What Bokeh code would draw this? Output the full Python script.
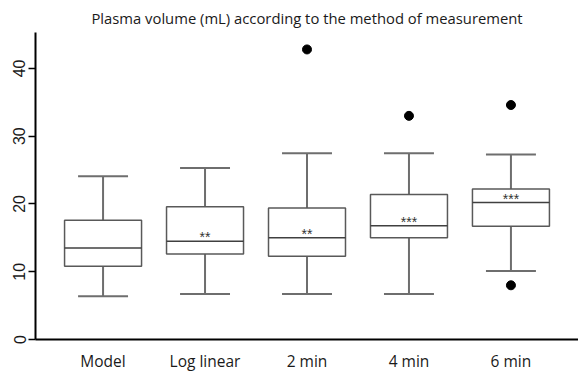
from bokeh.plotting import figure
from bokeh.models import ColumnDataSource, FactorRange, FixedTicker, Range1d
from bokeh.transform import dodge
from bokeh.embed import file_html
from bokeh.resources import INLINE

categories = ["Model", "Log linear", "2 min", "4 min", "6 min"]
lower_whisker = [6.4, 6.7, 6.7, 6.7, 10.1]
q1 = [10.8, 12.6, 12.3, 15.0, 16.7]
median = [13.5, 14.5, 15.0, 16.8, 20.2]
q3 = [17.6, 19.6, 19.4, 21.4, 22.2]
upper_whisker = [24.1, 25.3, 27.5, 27.5, 27.3]
significance = ["", "**", "**", "***", "***"]

outlier_cats = ["2 min", "4 min", "6 min", "6 min"]
outlier_vals = [42.8, 33.0, 34.6, 8.0]

y_ticks = [0, 10, 20, 30, 40]

src = ColumnDataSource(dict(cat=categories, lo=lower_whisker, q1=q1, med=median,
                            q3=q3, hi=upper_whisker, sig=significance))
osrc = ColumnDataSource(dict(cat=outlier_cats, val=outlier_vals))

p = figure(width=578, height=375, output_backend="svg", toolbar_location=None,
           x_range=FactorRange(*categories, range_padding=0.065),
           y_range=Range1d(0, 45.3),
           min_border_left=35, min_border_right=0, min_border_top=32, min_border_bottom=36)
p.outline_line_color = None
p.grid.grid_line_color = None
p.background_fill_color = "white"

box_col = "#595959"
wh_col = "#6e6e6e"
bw = 0.755
cw = 0.49

# whiskers
p.segment(x0="cat", y0="q3", x1="cat", y1="hi", source=src, line_color=wh_col, line_width=2)
p.segment(x0="cat", y0="lo", x1="cat", y1="q1", source=src, line_color=wh_col, line_width=2)
# caps
p.segment(x0=dodge("cat", -cw / 2, range=p.x_range), y0="hi",
          x1=dodge("cat", cw / 2, range=p.x_range), y1="hi", source=src,
          line_color=wh_col, line_width=2)
p.segment(x0=dodge("cat", -cw / 2, range=p.x_range), y0="lo",
          x1=dodge("cat", cw / 2, range=p.x_range), y1="lo", source=src,
          line_color=wh_col, line_width=2)
# boxes
p.vbar(x="cat", width=bw, bottom="q1", top="q3", source=src,
       fill_color="white", line_color=box_col, line_width=1.5)
# medians
p.segment(x0=dodge("cat", -bw / 2, range=p.x_range), y0="med",
          x1=dodge("cat", bw / 2, range=p.x_range), y1="med", source=src,
          line_color="#404040", line_width=1.5)
# significance marks
p.text(x="cat", y="med", text="sig", source=src, text_align="center",
       text_baseline="bottom", text_font_size="14px", text_color="#333333",
       y_offset=4, text_font={"value": "Liberation Sans"})
# outliers
p.scatter(x="cat", y="val", source=osrc, size=9, fill_color="black", line_color="black")

p.title.text = "Plasma volume (mL) according to the method of measurement"
p.title.align = "center"
p.title.offset = 5
p.title.text_font = "Open Sans"
p.title.text_font_size = "14.8px"
p.title.text_font_style = "normal"
p.title.text_color = "#1a1a1a"

xa = p.xaxis[0]
xa.major_tick_line_color = None
xa.minor_tick_line_color = None
xa.axis_line_color = "black"
xa.axis_line_width = 2
xa.major_label_text_font = "Open Sans"
xa.major_label_text_font_size = "15.5px"
xa.major_label_text_color = "#1a1a1a"
xa.major_label_standoff = 4

ya = p.yaxis[0]
ya.ticker = FixedTicker(ticks=y_ticks)
ya.minor_tick_line_color = None
ya.axis_line_color = "black"
ya.axis_line_width = 2
ya.major_tick_line_color = "black"
ya.major_tick_line_width = 1.5
ya.major_tick_out = 7
ya.major_tick_in = 0
ya.major_label_orientation = "vertical"
ya.major_label_text_font = "Liberation Sans"
ya.major_label_text_font_size = "16px"
ya.major_label_text_color = "#1a1a1a"
ya.major_label_standoff = 3

open("out.html", "w").write(file_html(p, INLINE))
